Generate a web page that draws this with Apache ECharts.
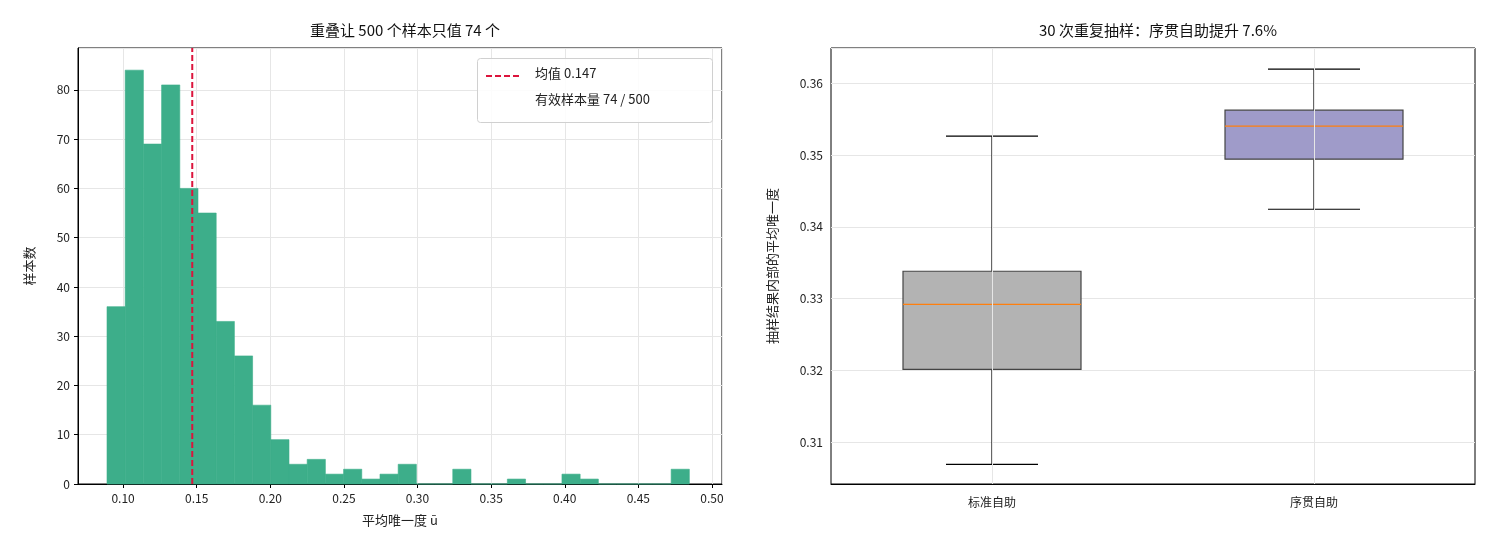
<!DOCTYPE html>
<html><head><meta charset="utf-8">
<script src="https://cdn.jsdelivr.net/npm/echarts@6/dist/echarts.min.js"></script>
<style>html,body{margin:0;padding:0;background:#fff}#c{width:1495px;height:559px}</style>
</head><body><div id="c"></div>
<script>
// 直方图数据
var binStart = 0.0891;
var binWidth = 0.01236;
var binCounts = [36, 84, 69, 81, 60, 55, 33, 26, 16, 9, 4, 5, 2, 3, 1, 2, 4, 0, 0, 3, 0, 0, 1, 0, 0, 2, 1, 0, 0, 0, 0, 3];
var meanValue = 0.147;
// 箱线图数据 [low, q1, median, q3, high]
var boxCats = ['标准自助', '序贯自助'];
var boxStats = [
    [0.30694, 0.32017, 0.32922, 0.33382, 0.35262],
    [0.34245, 0.34942, 0.35401, 0.35624, 0.36195]
];
var boxColors = ['#b3b3b3', '#9f9bc9'];

var font = 'Noto Sans CJK SC';
var histData = binCounts.map(function (c, i) { return [binStart + i * binWidth, c]; });
var axisCommon = {
    axisLine: {lineStyle: {color: '#000'}},
    axisTick: {lineStyle: {color: '#000'}, length: 4},
    axisLabel: {color: '#222', fontSize: 12, fontFamily: font, showMinLabel: false, showMaxLabel: false},
    splitLine: {show: true, lineStyle: {color: '#e6e6e6'}},
    nameTextStyle: {color: '#222', fontSize: 13, fontFamily: font}
};
function ax(o) { return Object.assign({}, JSON.parse(JSON.stringify(axisCommon)), o); }

var chart = echarts.init(document.getElementById('c'));
chart.setOption({
    animation: false,
    textStyle: {fontFamily: font},
    title: [
        {text: '重叠让 500 个样本只值 74 个', left: 400, top: 18, textAlign: 'center', textStyle: {fontSize: 15, fontWeight: 'normal', color: '#111', fontFamily: font}},
        {text: '30 次重复抽样：序贯自助提升 7.6%', left: 1153, top: 18, textAlign: 'center', textStyle: {fontSize: 15, fontWeight: 'normal', color: '#111', fontFamily: font}}
    ],
    grid: [
        {left: 78, top: 48, width: 644, height: 436, show: true, borderColor: '#000', borderWidth: 1, backgroundColor: 'transparent'},
        {left: 831, top: 48, width: 644, height: 436, show: true, borderColor: '#000', borderWidth: 1, backgroundColor: 'transparent'}
    ],
    xAxis: [
        ax({type: 'value', gridIndex: 0, min: 0.0694, max: 0.5068, splitNumber: 9, name: '平均唯一度 ū', nameLocation: 'middle', nameGap: 30,
            axisLabel: {color: '#222', fontSize: 12, fontFamily: font, showMinLabel: false, showMaxLabel: false, formatter: function (v) { return v.toFixed(2); }}}),
        ax({type: 'category', gridIndex: 1, data: boxCats, axisTick: {alignWithLabel: true, lineStyle: {color: '#000'}, length: 4},
            splitLine: {show: false},
            axisLabel: {color: '#222', fontSize: 12, fontFamily: font, margin: 12}})
    ],
    yAxis: [
        ax({type: 'value', gridIndex: 0, min: 0, max: 88.5, interval: 10, name: '样本数', nameLocation: 'middle', nameGap: 42,
            axisLabel: {color: '#222', fontSize: 12, fontFamily: font, showMaxLabel: false}}),
        ax({type: 'value', gridIndex: 1, min: 0.3042, max: 0.3649, splitNumber: 6, name: '抽样结果内部的平均唯一度', nameLocation: 'middle', nameGap: 52,
            axisLabel: {color: '#222', fontSize: 12, fontFamily: font, showMinLabel: false, showMaxLabel: false, formatter: function (v) { return v.toFixed(2); }}})
    ],
    series: [
        {
            type: 'custom', xAxisIndex: 0, yAxisIndex: 0, data: histData,
            renderItem: function (params, api) {
                var p0 = api.coord([api.value(0), api.value(1)]);
                var p1 = api.coord([api.value(0) + binWidth, 0]);
                return {type: 'rect', shape: {x: p0[0], y: p0[1], width: p1[0] - p0[0], height: p1[1] - p0[1]},
                    style: {fill: '#3dae8a', stroke: '#3dae8a', lineWidth: 0.6}};
            }
        },
        {
            type: 'line', xAxisIndex: 0, yAxisIndex: 0, symbol: 'none', z: 5,
            data: [[meanValue, 0], [meanValue, 88.5]],
            lineStyle: {color: '#dc143c', width: 2, type: [6, 3]}
        },
        {
            type: 'line', xAxisIndex: 1, yAxisIndex: 1, data: [], z: 1,
            markLine: {silent: true, symbol: 'none', label: {show: false},
                lineStyle: {color: '#e6e6e6', type: 'solid', width: 1},
                data: [{xAxis: 0}, {xAxis: 1}]}
        },
        {
            type: 'custom', xAxisIndex: 1, yAxisIndex: 1, z: 3, data: boxStats.map(function (s, i) { return [i].concat(s); }),
            renderItem: function (params, api) {
                var i = api.value(0);
                var cx = api.coord([i, 0])[0];
                var yl = api.coord([i, api.value(1)])[1], yq1 = api.coord([i, api.value(2)])[1],
                    ym = api.coord([i, api.value(3)])[1], yq3 = api.coord([i, api.value(4)])[1],
                    yh = api.coord([i, api.value(5)])[1];
                var bw = 178, cw = 92;
                var ls = {stroke: '#000', lineWidth: 1.2};
                return {type: 'group', children: [
                    {type: 'line', shape: {x1: cx, y1: yl, x2: cx, y2: yq1}, style: ls},
                    {type: 'line', shape: {x1: cx, y1: yq3, x2: cx, y2: yh}, style: ls},
                    {type: 'line', shape: {x1: cx - cw / 2, y1: yl, x2: cx + cw / 2, y2: yl}, style: ls},
                    {type: 'line', shape: {x1: cx - cw / 2, y1: yh, x2: cx + cw / 2, y2: yh}, style: ls},
                    {type: 'rect', shape: {x: cx - bw / 2, y: yq3, width: bw, height: yq1 - yq3},
                        style: {fill: boxColors[i], stroke: '#444', lineWidth: 1.2}},
                    {type: 'line', shape: {x1: cx - bw / 2, y1: ym, x2: cx + bw / 2, y2: ym}, style: {stroke: '#ff7f0e', lineWidth: 1.2}}
                ]};
            }
        }
    ],
    graphic: [
        {type: 'rect', left: 477, top: 58, shape: {width: 235, height: 64, r: 3}, style: {fill: 'rgba(255,255,255,0.85)', stroke: '#d0d0d0', lineWidth: 1}, z: 10},
        {type: 'line', shape: {x1: 486, y1: 76, x2: 520, y2: 76}, style: {stroke: '#dc143c', lineWidth: 2, lineDash: [6, 3]}, z: 11},
        {type: 'text', left: 535, top: 67, style: {text: '均值 0.147', fontSize: 13, fontFamily: font, fill: '#222'}, z: 11},
        {type: 'text', left: 535, top: 93, style: {text: '有效样本量 74 / 500', fontSize: 13, fontFamily: font, fill: '#222'}, z: 11}
    ]
});
</script>
</body></html>
